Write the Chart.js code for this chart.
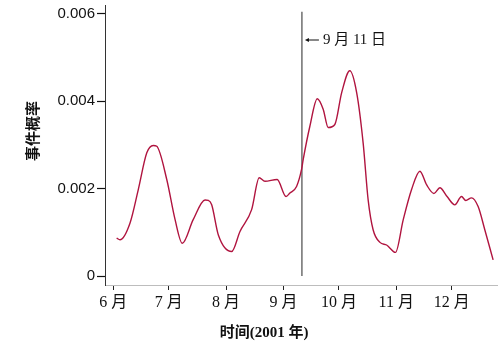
<!DOCTYPE html>
<html>
<head>
<meta charset="utf-8">
<script src="https://cdn.jsdelivr.net/npm/chart.js@4.4.1/dist/chart.umd.min.js"></script>
<style>
  html, body { margin: 0; padding: 0; background: #ffffff; }
  #wrap { width: 504px; height: 354px; position: relative; }
</style>
</head>
<body>
<div id="wrap"><canvas id="c" width="504" height="354"></canvas></div>
<script>
// Days counted from 1 June 2001
const dayOffsets = [1.8, 3.6, 9.0, 13.5, 18.1, 21.6, 23.5, 28.9, 33.4, 37.3, 43.2, 49.6, 51.4, 53.2, 56.8, 64.0, 68.5, 74.8, 78.9, 82.0, 88.6, 93.4, 95.5, 99.1, 101.8, 102.7, 106.3, 110.3, 113.5, 116.2, 119.8, 123.5, 127.9, 131.6, 135.1, 137.8, 140.5, 144.2, 147.8, 152.6, 156.8, 161.3, 165.8, 169.4, 173.4, 176.6, 180.5, 184.7, 188.3, 190.6, 193.7, 197.3, 200.9, 205.4];
const eventProbability = [0.00087, 0.00083, 0.00121, 0.00198, 0.00282, 0.00299, 0.00297, 0.00221, 0.00129, 0.00075, 0.00129, 0.00174, 0.00173, 0.00163, 0.00094, 0.00056, 0.00102, 0.00152, 0.00225, 0.00217, 0.00221, 0.00182, 0.00190, 0.00205, 0.00244, 0.00267, 0.00343, 0.00406, 0.00382, 0.00340, 0.00347, 0.00420, 0.00470, 0.00420, 0.00305, 0.00175, 0.00106, 0.00077, 0.00071, 0.00054, 0.00129, 0.00198, 0.00240, 0.00209, 0.00189, 0.00202, 0.00182, 0.00163, 0.00182, 0.00173, 0.00179, 0.00159, 0.00106, 0.00037];
const monthStartDays = [0, 30, 61, 92, 122, 153, 183];
const monthLabels = ['6 月', '7 月', '8 月', '9 月', '10 月', '11 月', '12 月'];
const yTickValues = [0, 0.002, 0.004, 0.006];
const eventDay = 102; // 11 September
const eventLineValues = [0.00605, 0];
const eventLabel = '9 月 11 日';
const xTitle = '时间(2001 年)';
const yTitle = '事件概率';

const curve = dayOffsets.map((d, i) => ({ x: d, y: eventProbability[i] }));
const eventLine = eventLineValues.map(v => ({ x: eventDay, y: v }));

const serif = '"Liberation Serif", "Noto Sans CJK SC", serif';

const annotate = {
  id: 'annotate',
  afterDraw(chart) {
    const ctx = chart.ctx;
    const xs = chart.scales.x;
    ctx.save();
    ctx.fillStyle = '#111';
    ctx.strokeStyle = '#111';
    // y title
    ctx.save();
    ctx.translate(32, 131);
    ctx.rotate(-Math.PI / 2);
    ctx.font = 'bold 15px "Noto Sans CJK SC", sans-serif';
    ctx.textAlign = 'center';
    ctx.textBaseline = 'middle';
    ctx.fillText(yTitle, 0, 0);
    ctx.restore();
    // x title
    ctx.font = 'bold 15px ' + serif;
    ctx.textAlign = 'center';
    ctx.textBaseline = 'middle';
    ctx.fillText(xTitle, 264, 333);
    // event annotation
    const px = xs.getPixelForValue(eventDay);
    const ay = 40;
    ctx.lineWidth = 1;
    ctx.beginPath();
    ctx.moveTo(px + 6, ay);
    ctx.lineTo(px + 17, ay);
    ctx.stroke();
    ctx.beginPath();
    ctx.moveTo(px + 3, ay);
    ctx.lineTo(px + 7, ay - 2);
    ctx.lineTo(px + 7, ay + 2);
    ctx.closePath();
    ctx.fill();
    ctx.font = '15px ' + serif;
    ctx.textAlign = 'left';
    ctx.fillText(eventLabel, px + 21, ay);
    ctx.restore();
  }
};

new Chart(document.getElementById('c'), {
  type: 'line',
  data: {
    datasets: [
      {
        data: curve,
        borderColor: '#b0143f',
        borderWidth: 1.4,
        pointRadius: 0,
        cubicInterpolationMode: 'monotone',
        fill: false
      },
      {
        data: eventLine,
        borderColor: '#4a4a4a',
        borderWidth: 1.2,
        pointRadius: 0,
        tension: 0,
        fill: false
      }
    ]
  },
  options: {
    responsive: false,
    animation: false,
    devicePixelRatio: 1,
    layout: { padding: { left: 0, right: 7, top: 5, bottom: 0 } },
    plugins: { legend: { display: false }, tooltip: { enabled: false } },
    scales: {
      x: {
        type: 'linear',
        min: -4.5,
        max: 207.5,
        afterBuildTicks(s) { s.ticks = monthStartDays.map(v => ({ value: v })); },
        afterFit(s) { s.height = 69; s.paddingLeft = 0; s.paddingRight = 0; },
        ticks: {
          callback(v) { const i = monthStartDays.indexOf(v); return i >= 0 ? monthLabels[i] : ''; },
          font: { family: serif, size: 16 },
          color: '#111',
          padding: 3,
          maxRotation: 0,
          autoSkip: false
        },
        grid: { display: true, drawOnChartArea: false, tickLength: 5, color: '#222', tickWidth: 1 },
        border: { display: true, color: '#bdbdbd', width: 1 }
      },
      y: {
        type: 'linear',
        min: -0.000206,
        max: 0.006206,
        afterBuildTicks(s) { s.ticks = yTickValues.map(v => ({ value: v })); },
        afterFit(s) { s.width = 105; s.paddingTop = 0; s.paddingBottom = 0; },
        ticks: {
          callback(v) { return v === 0 ? '0' : v.toFixed(3); },
          font: { family: '"Liberation Sans", Arial, sans-serif', size: 15 },
          color: '#111',
          padding: 2
        },
        grid: { display: true, drawOnChartArea: false, tickLength: 8, color: '#111', tickWidth: 1.2 },
        border: { display: true, color: '#333', width: 1 }
      }
    }
  },
  plugins: [annotate]
});
</script>
</body>
</html>
